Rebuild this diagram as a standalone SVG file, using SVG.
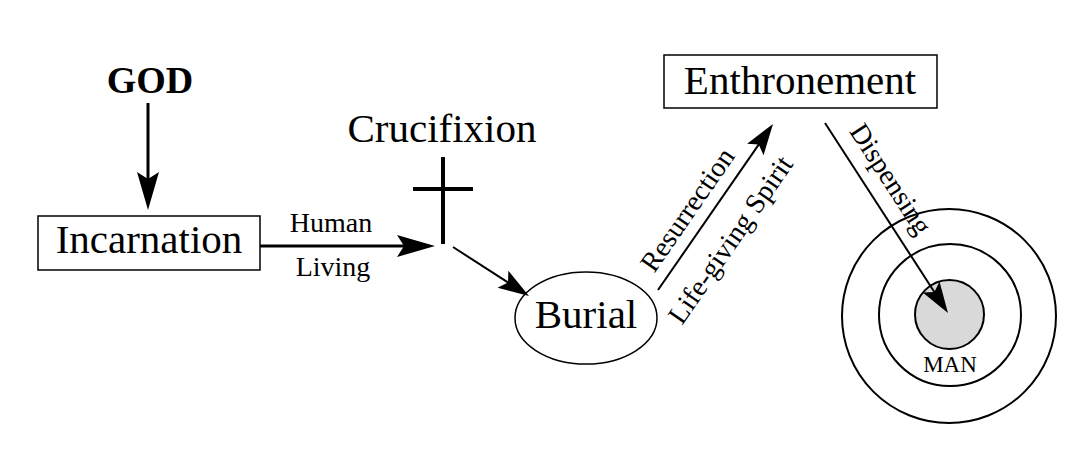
<svg xmlns="http://www.w3.org/2000/svg" width="1085" height="461" viewBox="0 0 1085 461">
<style>
text{font-family:"Liberation Serif","Times New Roman",serif;fill:#000}
.big{font-size:41px}
.lbl{font-size:28px}
.box{fill:#fff;stroke:#000;stroke-width:1.5}
.thick{stroke:#000;stroke-width:3;fill:none}
.thin{stroke:#000;stroke-width:2;fill:none}
.ring{fill:none;stroke:#000;stroke-width:2}
</style>
<defs>
<marker id="ahBig" viewBox="-40 -12 42 24" refX="-25" refY="0" markerWidth="42" markerHeight="24" markerUnits="userSpaceOnUse" orient="auto">
<path d="M0,0 L-38,-11 L-31,0 L-38,11 Z" fill="#000"/>
</marker>
<marker id="ahSmall" viewBox="-34 -12 36 24" refX="-20" refY="0" markerWidth="36" markerHeight="24" markerUnits="userSpaceOnUse" orient="auto">
<path d="M0,0 L-31,-10 L-25,0 L-31,10 Z" fill="#000"/>
</marker>
</defs>
<rect width="1085" height="461" fill="#fff"/>

<g id="god">
<text x="150" y="93" text-anchor="middle" font-weight="bold" font-size="38">GOD</text>
</g>

<g id="incarnation">
<rect class="box" x="38" y="216" width="222" height="54"/>
<text class="big" x="149" y="253" text-anchor="middle">Incarnation</text>
</g>

<g id="crucifixion">
<text class="big" x="442" y="142" text-anchor="middle">Crucifixion</text>
<line x1="443" y1="157" x2="443" y2="244" stroke="#000" stroke-width="4"/>
<line x1="413" y1="189" x2="473" y2="189" stroke="#000" stroke-width="4"/>
</g>

<g id="burial">
<ellipse cx="586" cy="318" rx="71" ry="46" class="box"/>
<text class="big" x="586" y="328" text-anchor="middle">Burial</text>
</g>

<g id="enthronement">
<rect class="box" x="664" y="55" width="273" height="53"/>
<text class="big" x="800" y="94" text-anchor="middle">Enthronement</text>
</g>

<g id="man">
<circle class="ring" cx="949" cy="316" r="107"/>
<circle class="ring" cx="950" cy="315" r="71"/>
<circle cx="949.5" cy="314.5" r="34.5" fill="#d9d9d9" stroke="#000" stroke-width="2"/>
<text x="950" y="372" text-anchor="middle" font-size="23">MAN</text>
</g>

<g id="connectors">
<line class="thick" x1="148" y1="103" x2="148" y2="185" marker-end="url(#ahBig)"/>
<line class="thick" x1="260" y1="246" x2="410" y2="246" marker-end="url(#ahBig)"/>
<text class="lbl" x="331" y="232" text-anchor="middle">Human</text>
<text class="lbl" x="333" y="276" text-anchor="middle">Living</text>
<line class="thin" x1="453" y1="247" x2="512.2" y2="285.2" marker-end="url(#ahSmall)"/>
<line class="thin" x1="658" y1="290" x2="761.6" y2="140.4" marker-end="url(#ahSmall)"/>
<text class="lbl" text-anchor="middle" transform="translate(695,215) rotate(-55.3)">Resurrection</text>
<text class="lbl" text-anchor="middle" transform="translate(738,245) rotate(-55.3)">Life-giving Spirit</text>
<line class="thin" x1="825" y1="123" x2="937.1" y2="296.2" marker-end="url(#ahSmall)"/>
<text class="lbl" text-anchor="middle" transform="translate(883,184) rotate(57)">Dispensing</text>
</g>
</svg>
